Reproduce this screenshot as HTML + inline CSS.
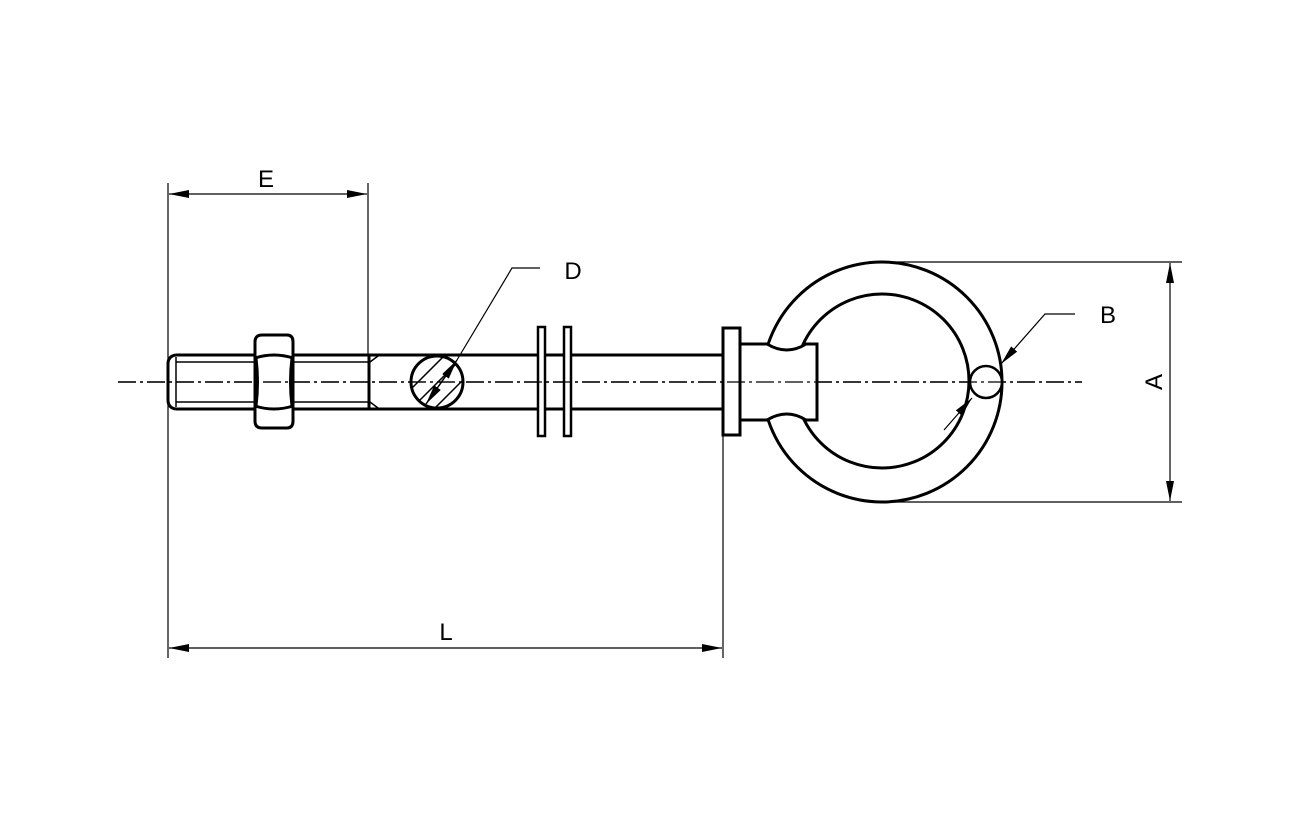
<!DOCTYPE html>
<html><head><style>body{margin:0;background:#fff}</style></head><body>
<svg width="1300" height="826" viewBox="0 0 1300 826" xmlns="http://www.w3.org/2000/svg" font-family="Liberation Sans, sans-serif">
<defs>
<marker id="ar" viewBox="0 0 20 8" refX="20" refY="4" markerWidth="20" markerHeight="8" markerUnits="userSpaceOnUse" orient="auto-start-reverse"><path d="M0,0 L20,4 L0,8 Z" fill="#000"/></marker>
<clipPath id="cd"><circle cx="437" cy="382" r="26"/></clipPath>
</defs>
<g fill="none" stroke="#000">
<line x1="118" y1="382" x2="1082" y2="382" stroke-width="1.2" stroke-dasharray="18,4,3,4"/>
<g stroke-width="3">
<path d="M176,355 L370,355 M176,409 L370,409 M176,355 Q168,356 168,364 L168,400 Q168,408 176,409"/>
<line x1="370" y1="355" x2="723" y2="355"/><line x1="370" y1="409" x2="723" y2="409"/>
<line x1="369" y1="355" x2="369" y2="409"/>
</g>
<g stroke-width="1.5">
<line x1="176" y1="362" x2="369" y2="362"/><line x1="176" y1="402" x2="369" y2="402"/>
<line x1="176" y1="357" x2="176" y2="407"/>
<line x1="370" y1="362" x2="378" y2="356"/><line x1="370" y1="402" x2="378" y2="408"/>
</g>
<g stroke-width="3">
<path d="M262,335 L287,335 Q293,335 293,342 L293,421 Q293,428 287,428 L262,428 Q255,428 255,421 L255,342 Q255,335 262,335 Z" fill="#fff"/>
<path d="M255,358 Q274,352 293,358 M255,406 Q274,412 293,406 M256,358 Q259,382 256,406 M292,358 Q289,382 292,406"/>
</g>
<circle cx="437" cy="382" r="26" stroke-width="3" fill="#fff"/>
<g clip-path="url(#cd)" stroke-width="1.5">
<line x1="400" y1="380" x2="440" y2="340"/><line x1="405" y1="395" x2="455" y2="345"/>
<line x1="415" y1="405" x2="465" y2="355"/><line x1="425" y1="418" x2="470" y2="373"/>
</g>
<line x1="118" y1="382" x2="1082" y2="382" stroke-width="1.2" stroke-dasharray="18,4,3,4"/>
<line x1="426" y1="404" x2="457" y2="360" stroke-width="1.5" marker-start="url(#ar)" marker-end="url(#ar)"/>
<polyline points="540,268 512,268 457,360" stroke-width="1.2"/>
<rect x="538" y="327" width="7" height="109" stroke-width="2.5" fill="#fff"/>
<rect x="564" y="327" width="7" height="109" stroke-width="2.5" fill="#fff"/>
<circle cx="882" cy="382" r="120" stroke-width="3"/>
<circle cx="882" cy="381" r="87" stroke-width="3"/>
<path d="M766,344 Q787,360 806,344 L817,344 L817,420 L806,420 Q787,404 766,420 L740,420 L740,344 Z" fill="#fff" stroke="none"/>
<path d="M740,344 L767,344 Q787,356 806,344 L817,344 L817,420 L806,420 Q787,408 767,420 L740,420" stroke-width="3"/>
<rect x="723" y="328" width="17" height="107" stroke-width="3" fill="#fff"/>
<circle cx="986" cy="382" r="16" stroke-width="2.5" fill="#fff"/>
<line x1="118" y1="382" x2="1082" y2="382" stroke-width="1.2" stroke-dasharray="18,4,3,4"/>
<line x1="944" y1="430" x2="972" y2="398" stroke-width="1.2" marker-end="url(#ar)"/>
<polyline points="1075,314 1045,314 1001,364" stroke-width="1.2" marker-end="url(#ar)"/>
<g stroke-width="1.2">
<line x1="168" y1="183" x2="168" y2="658"/>
<line x1="368" y1="183" x2="368" y2="355"/>
<line x1="723" y1="435" x2="723" y2="658"/>
<line x1="169" y1="194" x2="367" y2="194" marker-start="url(#ar)" marker-end="url(#ar)"/>
<line x1="169" y1="648" x2="722" y2="648" marker-start="url(#ar)" marker-end="url(#ar)"/>
<line x1="882" y1="262" x2="1182" y2="262"/>
<line x1="882" y1="502" x2="1182" y2="502"/>
<line x1="1170" y1="263" x2="1170" y2="501" marker-start="url(#ar)" marker-end="url(#ar)"/>
</g>
</g>
<g font-size="24" fill="#000">
<text x="266" y="187" text-anchor="middle">E</text>
<text x="446" y="640" text-anchor="middle">L</text>
<text x="573" y="279" text-anchor="middle">D</text>
<text x="1108" y="323" text-anchor="middle">B</text>
<text transform="translate(1162,382) rotate(-90)" text-anchor="middle">A</text>
</g>
</svg>
</body></html>
